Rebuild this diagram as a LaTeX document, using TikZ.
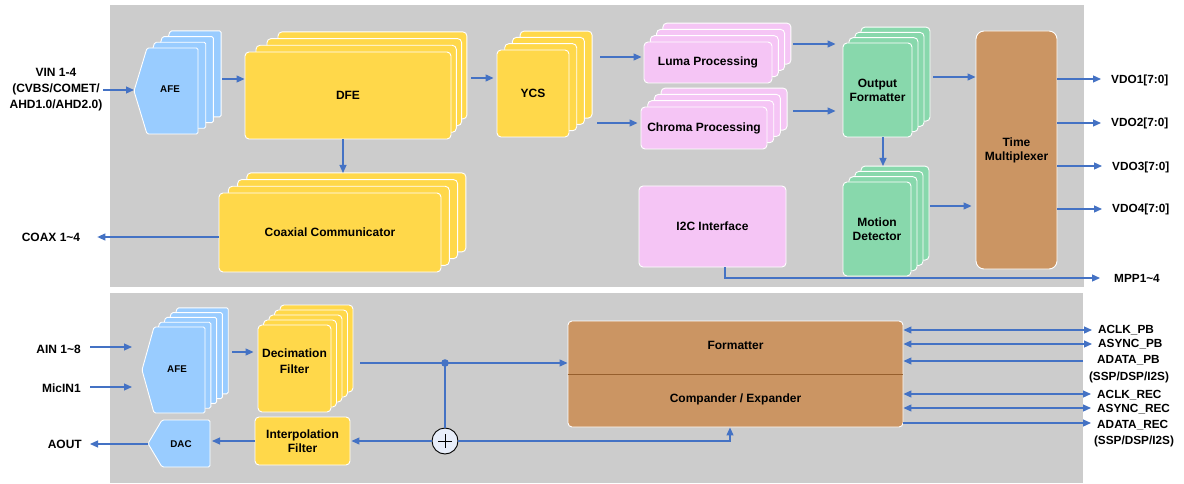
\documentclass[tikz,border=0pt]{standalone}
\usepackage{fontspec}
\setmainfont{Liberation Sans}
\usetikzlibrary{arrows.meta}
\definecolor{panel}{RGB}{204,204,204}
\definecolor{yel}{RGB}{255,216,74}
\definecolor{afeblue}{RGB}{153,204,255}
\definecolor{pinkc}{RGB}{245,197,245}
\definecolor{greenc}{RGB}{136,216,172}
\definecolor{brownc}{RGB}{203,149,99}
\definecolor{browndark}{RGB}{150,95,45}
\definecolor{arrowc}{RGB}{68,114,196}
\definecolor{sumfill}{RGB}{232,238,250}
\tikzset{
 layer/.style={draw=white, line width=0.9pt, rounded corners=4pt},
 blk/.style={draw=white, line width=0.9pt, rounded corners=4pt, inner sep=0pt, font=\bfseries\fontsize{12}{14}\selectfont, align=center},
 lbl/.style={font=\bfseries\fontsize{12}{16}\selectfont, align=center, inner sep=0pt},
 small/.style={font=\bfseries\fontsize{9.8}{11}\selectfont, inner sep=0pt},
 rlbl/.style={font=\bfseries\fontsize{11.8}{14}\selectfont, inner sep=0pt},
 conn/.style={draw=arrowc, line width=1.2pt},
 arr/.style={conn, -{Triangle[length=8pt,width=7pt]}},
 darr/.style={conn, {Triangle[length=8pt,width=7pt]}-{Triangle[length=8pt,width=7pt]}},
}
\newcommand\stacklayers[9]{\foreach \i in {#1,...,1}{\draw[layer,fill=#9] ({#2+\i*#6},{#3-\i*#8}) rectangle ({#4+\i*#7},{#5-\i*#8});}}
\newcommand\pentstack[9]{\foreach \i in {#1,...,0}{\draw[layer, rounded corners=1.5pt, fill=#9] ({#2+\i*#7},{(#5+#6)/2-\i*#8}) -- ({#3+\i*#7},{#5-\i*#8}) -- ({#4+\i*#7},{#5-\i*#8}) -- ({#4+\i*#7},{#6-\i*#8}) -- ({#3+\i*#7},{#6-\i*#8}) -- cycle;}}
\begin{document}
\begin{tikzpicture}[x=1pt,y=-1pt]
\useasboundingbox[fill=white] (0,0) rectangle (1184,484);
% panels
\fill[panel] (110,5) rectangle (1084,287);
\fill[panel] (110,293) rectangle (1083,483);

% ===== top panel =====
\pentstack{3}{134}{147}{198}{48}{134}{7.7}{5.7}{afeblue}
\node[small] (afe) at (170,89) {AFE};
\coordinate (afeL) at (134,90);

\stacklayers{3}{245}{52}{451}{139}{11}{5.3}{6.7}{yel}
\node[blk, fill=yel, minimum width=206, minimum height=87] (dfe) at (348,95.5) {DFE};

\stacklayers{3}{497}{50}{569}{137}{7.7}{7.7}{6.3}{yel}
\node[blk, fill=yel, minimum width=72, minimum height=87] (ycs) at (533,93.5) {YCS};

\stacklayers{3}{644}{42}{772}{83}{6.3}{6.3}{6.3}{pinkc}
\node[blk, fill=pinkc, minimum width=128, minimum height=41] (luma) at (708,62.5) {Luma Processing};

\stacklayers{3}{641}{107}{767}{149}{6.7}{6.7}{6.3}{pinkc}
\node[blk, fill=pinkc, minimum width=126, minimum height=42] (chroma) at (704,128) {Chroma Processing};

\stacklayers{3}{843}{43}{912}{137}{6}{6}{5.3}{greenc}
\node[blk, fill=greenc, minimum width=69, minimum height=94] (of) at (877.5,90) {Output\\Formatter};

\stacklayers{3}{843}{182}{911}{276}{6}{6}{5.3}{greenc}
\node[blk, fill=greenc, minimum width=68, minimum height=94] (md) at (877,229) {Motion\\Detector};

\node[blk, fill=brownc, rounded corners=8pt, minimum width=81, minimum height=238] (tm) at (1016.5,150) {Time\\Multiplexer};

\node[blk, fill=pinkc, minimum width=147, minimum height=81] (i2c) at (712.5,226.5) {I2C Interface};

\stacklayers{3}{219}{193}{441}{272}{9.3}{8.3}{6.7}{yel}
\node[blk, fill=yel, minimum width=222, minimum height=79] (coax) at (330,232.5) {Coaxial Communicator};

% labels
\node[lbl] (vin) at (56,90) {VIN 1-4\\(CVBS/COMET/\\AHD1.0/AHD2.0)};
\node[lbl] (coaxl) at (51,237) {COAX 1\textasciitilde4};
\node[rlbl, anchor=west] (vdo1) at (1111,80) {VDO1[7:0]};
\node[rlbl, anchor=west] (vdo2) at (1111,123) {VDO2[7:0]};
\node[rlbl, anchor=west] (vdo3) at (1112,167) {VDO3[7:0]};
\node[rlbl, anchor=west] (vdo4) at (1112,209) {VDO4[7:0]};
\node[rlbl] (mpp) at (1137,278) {MPP1\textasciitilde4};

% arrows top
\draw[arr] (103,90) -- (afeL);
\draw[arr] (222,79) -- (dfe.west |- 0,79);
\draw[arr, shorten >=3pt] (471,78) -- (ycs.west |- 0,78);
\draw[arr, shorten >=2pt] (600,57) -- (luma.west |- 0,57);
\draw[arr, shorten >=3pt] (597,123) -- (chroma.west |- 0,123);
\draw[arr, shorten >=7pt] (793,44) -- (of.west |- 0,44);
\draw[arr, shorten >=7pt] (793,111) -- (of.west |- 0,111);
\draw[arr] (933,77) -- (tm.west |- 0,77);
\draw[arr] (of.south -| 883,0) -- (883,166);
\draw[arr, shorten >=4pt] (930,206) -- (tm.west |- 0,206);
\foreach \y/\n in {79/vdo1,123/vdo2,166/vdo3,209/vdo4}{
  \draw[arr, shorten >=10pt] (tm.east |- 0,\y) -- (\n.west |- 0,\y);
}
\draw[arr, shorten >=14pt] (i2c.south -| 725,0) -- (725,278) -- (mpp.west |- 0,278);
\draw[arr] (dfe.south -| 343,0) -- (343,173);
\draw[arr, shorten >=17pt] (coax.west |- 0,237) -- (coaxl.east |- 0,237);

% ===== bottom panel =====
\pentstack{4}{142}{154}{205}{327}{413}{5.8}{4.8}{afeblue}
\node[small] (afe2) at (177,369) {AFE};

\pentstack{0}{148}{162}{210}{420}{467}{0}{0}{afeblue}
\node[small] (dac) at (181,444) {DAC};
\coordinate (dacL) at (148,444);

\stacklayers{4}{258}{325}{331}{412}{5.5}{5.5}{5}{yel}
\node[blk, fill=yel, minimum width=73, minimum height=87] (dec) at (294.5,368.5) {};
\node[lbl] (dect) at (294.5,361) {Decimation\\Filter};

\node[blk, fill=yel, minimum width=95, minimum height=48] (interp) at (302.5,441) {Interpolation\\Filter};

\node[blk, fill=brownc, minimum width=335, minimum height=106] (fmt) at (735.5,374) {};
\draw[browndark, line width=0.8pt] (fmt.west |- 0,374) -- (fmt.east |- 0,374);
\node[lbl] (fmtt) at (735.5,345) {Formatter};
\node[lbl] (cmpt) at (735.5,399) {Compander / Expander};

\node[circle, draw=black, line width=0.9pt, fill=sumfill, minimum size=26, inner sep=0pt] (sum) at (445,441) {};
\draw[line width=0.9pt] ([xshift=-7pt]sum.center) -- ([xshift=7pt]sum.center);
\draw[line width=0.9pt] ([yshift=-7pt]sum.center) -- ([yshift=7pt]sum.center);

% labels bottom
\node[lbl, anchor=east] (ain) at (81,349) {AIN 1\textasciitilde8};
\node[lbl, anchor=east] (mic) at (81,388) {MicIN1};
\node[lbl, anchor=east] (aout) at (82,444) {AOUT};

\node[rlbl, anchor=west] (aclkpb) at (1098,330) {ACLK\_PB};
\node[rlbl, anchor=west] (asyncpb) at (1098,344) {ASYNC\_PB};
\node[rlbl, anchor=west] (adatapb) at (1097,360) {ADATA\_PB};
\node[rlbl] (ssp1) at (1129,377) {(SSP/DSP/I2S)};
\node[rlbl, anchor=west] (aclkrec) at (1097,395) {ACLK\_REC};
\node[rlbl, anchor=west] (asyncrec) at (1097,409) {ASYNC\_REC};
\node[rlbl, anchor=west] (adatarec) at (1097,425) {ADATA\_REC};
\node[rlbl] (ssp2) at (1134,441) {(SSP/DSP/I2S)};

% arrows bottom
\draw[arr, shorten <=9pt] (ain.east |- 0,347) -- (132,347);
\draw[arr, shorten <=9pt] (mic.east |- 0,387) -- (132,387);
\draw[arr, shorten >=8pt] (dacL) -- (aout.east |- 0,444);
\draw[arr, shorten >=4pt] (232,352) -- (dec.west |- 0,352);
\draw[arr, shorten >=2pt] (interp.west |- 0,441) -- (210,441);
\draw[arr] (360,363) -- (fmt.west |- 0,363);
\fill[arrowc] (445,363) circle (3.8);
\draw[conn] (445,363) -- (sum.north);
\draw[arr, shorten >=1pt] (sum.west) -- (interp.east |- 0,441);
\draw[arr] (sum.east) -- (730,441) -- (fmt.south -| 730,0);
\draw[darr, shorten >=6pt] (fmt.east |- 0,330) -- (aclkpb.west |- 0,330);
\draw[darr, shorten >=6pt] (fmt.east |- 0,344) -- (asyncpb.west |- 0,344);
\draw[arr, shorten <=14pt] (adatapb.west |- 0,361) -- (fmt.east |- 0,361);
\draw[darr, shorten >=6pt] (fmt.east |- 0,394) -- (aclkrec.west |- 0,394);
\draw[darr, shorten >=6pt] (fmt.east |- 0,408) -- (asyncrec.west |- 0,408);
\draw[arr, shorten >=6pt] (fmt.east |- 0,423) -- (adatarec.west |- 0,423);
\end{tikzpicture}
\end{document}
